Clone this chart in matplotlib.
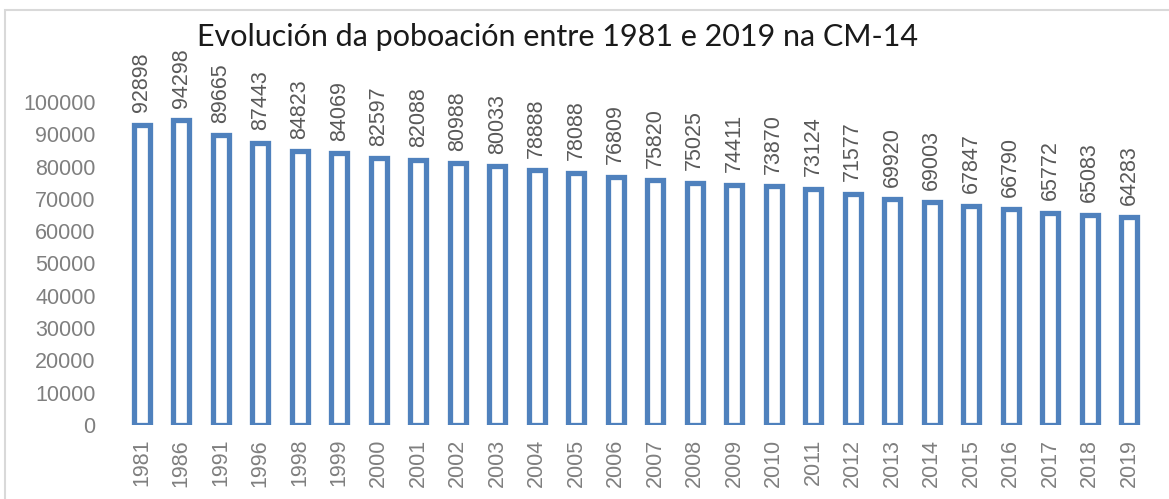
import matplotlib.pyplot as plt
from matplotlib.patches import Rectangle
import numpy as np

years = ['1981', '1986', '1991', '1996', '1998', '1999', '2000', '2001', '2002', '2003',
         '2004', '2005', '2006', '2007', '2008', '2009', '2010', '2011', '2012', '2013',
         '2014', '2015', '2016', '2017', '2018', '2019']
poboacion = [92898, 94298, 89665, 87443, 84823, 84069, 82597, 82088, 80988, 80033,
             78888, 78088, 76809, 75820, 75025, 74411, 73870, 73124, 71577, 69920,
             69003, 67847, 66790, 65772, 65083, 64283]
yticks = list(range(0, 100001, 10000))

plt.rcParams['font.family'] = ['Liberation Sans', 'DejaVu Sans']
fig = plt.figure(figsize=(11.69, 4.99), dpi=100)
ax = fig.add_axes([0.1044, 0.1483, 0.8786, 0.6473])

blue = '#4F81BD'
grey = '#7f7f7f'
x = np.arange(len(years))
ax.bar(x, poboacion, width=0.4, facecolor='white', edgecolor=blue, linewidth=3.8)

for xi, v in zip(x, poboacion):
    ax.annotate(str(v), (xi, v), xytext=(0, 9), textcoords='offset points',
                rotation=90, ha='center', va='bottom', fontsize=15.5, color='#595959',
                annotation_clip=False)

ax.set_xlim(-0.5, len(years) - 0.5)
ax.set_ylim(0, 100000)
ax.set_yticks(yticks)
ax.set_yticklabels([str(t) for t in yticks])
ax.set_xticks(x)
ax.set_xticklabels(years, rotation=90)
ax.tick_params(axis='y', length=0, pad=19, labelsize=15.5, labelcolor=grey)
ax.tick_params(axis='x', length=0, pad=10, labelsize=15.5, labelcolor=grey)
for s in ax.spines.values():
    s.set_visible(False)

fig.text(0.477, 0.925, 'Evolución da poboación entre 1981 e 2019 na CM-14',
         ha='center', va='center', fontsize=22, color='#1a1a1a', family=['Lato', 'DejaVu Sans'])

fig.patches.append(Rectangle((5 / 1169, -0.05), 1.2, 0.05 + 1 - 10 / 499,
                             transform=fig.transFigure, fill=False,
                             edgecolor='#d9d9d9', linewidth=1.5))

fig.savefig('out.png', dpi=100)
